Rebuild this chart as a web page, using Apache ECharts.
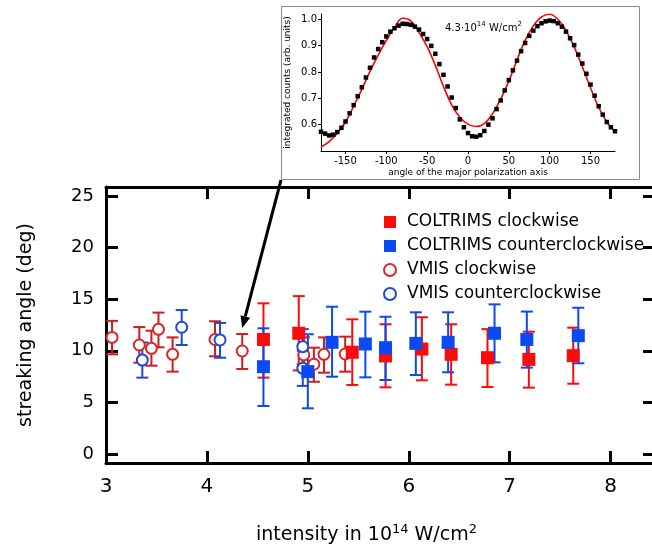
<!DOCTYPE html>
<html><head><meta charset="utf-8">
<script src="https://cdn.jsdelivr.net/npm/echarts@6/dist/echarts.min.js"></script>
<style>html,body{margin:0;padding:0;background:#fff;overflow:hidden}#c{width:652px;height:548px}</style>
</head><body><div id="c"></div>
<script>
// ---- main plot data ----
const xTicks = [3, 4, 5, 6, 7, 8];
const yTicks = [0, 5, 10, 15, 20, 25];

const coltCwX  = [4.56, 4.91, 5.44, 5.77, 6.13, 6.42, 6.78, 7.19, 7.63];
const coltCwY  = [11.1, 11.7, 9.86, 9.5, 10.17, 9.66, 9.33, 9.17, 9.53];
const coltCwLo = [7.4, 8.1, 6.69, 6.46, 7.14, 6.72, 6.49, 6.43, 6.81];
const coltCwHi = [14.6, 15.3, 13.05, 12.57, 13.25, 12.57, 12.1, 11.85, 12.24];

const coltCcwX  = [4.56, 5.0, 5.24, 5.57, 5.77, 6.07, 6.39, 6.85, 7.17, 7.68];
const coltCcwY  = [8.46, 7.98, 10.82, 10.66, 10.3, 10.72, 10.82, 11.7, 11.1, 11.47];
const coltCcwLo = [4.65, 4.43, 7.49, 7.43, 7.17, 7.65, 7.92, 8.88, 8.37, 8.79];
const coltCcwHi = [12.18, 11.6, 14.27, 13.79, 13.3, 13.73, 13.73, 14.5, 13.8, 14.17];

const vmisCwX  = [3.06, 3.33, 3.45, 3.52, 3.66, 4.08, 4.35, 4.96, 5.06, 5.16, 5.37];
const vmisCwY  = [11.3, 10.56, 10.24, 12.08, 9.66, 11.1, 9.98, 9.6, 8.7, 9.66, 9.69];
const vmisCwLo = [9.66, 8.85, 8.56, 10.34, 7.98, 9.47, 8.24, 8.0, 7.0, 7.88, 7.98];
const vmisCwHi = [12.9, 12.3, 11.95, 13.7, 11.3, 12.86, 11.63, 11.3, 10.3, 11.3, 11.37];

const vmisCcwX  = [3.36, 3.75, 4.13, 4.95, 4.95];
const vmisCcwY  = [9.1, 12.28, 11.05, 10.4, 8.3];
const vmisCcwLo = [7.4, 10.56, 9.33, 8.7, 6.6];
const vmisCcwHi = [10.8, 13.95, 12.7, 12.1, 10.0];

// ---- inset data ----
const inTicksX = [-150, -100, -50, 0, 50, 100, 150];
const inTicksY = [0.6, 0.7, 0.8, 0.9, 1.0];
const measAngle = [-180,-175,-170,-165,-160,-155,-150,-145,-140,-135,-130,-125,-120,-115,-110,-105,-100,-95,-90,-85,-80,-75,-70,-65,-60,-55,-50,-45,-40,-35,-30,-25,-20,-15,-10,-5,0,5,10,15,20,25,30,35,40,45,50,55,60,65,70,75,80,85,90,95,100,105,110,115,120,125,130,135,140,145,150,155,160,165,170,175,180];
const measCounts = [0.573,0.566,0.559,0.562,0.572,0.588,0.612,0.643,0.674,0.708,0.742,0.779,0.816,0.855,0.887,0.913,0.935,0.953,0.966,0.976,0.983,0.982,0.979,0.972,0.961,0.944,0.925,0.899,0.869,0.830,0.789,0.745,0.703,0.663,0.620,0.590,0.568,0.556,0.554,0.560,0.576,0.600,0.624,0.659,0.692,0.730,0.769,0.806,0.843,0.879,0.910,0.937,0.957,0.974,0.985,0.992,0.995,0.993,0.985,0.972,0.953,0.928,0.902,0.866,0.832,0.793,0.752,0.710,0.670,0.638,0.610,0.590,0.575];
const fitAngle = [-180,-170,-160,-150,-140,-130,-120,-110,-100,-90,-80,-70,-60,-50,-40,-30,-20,-10,0,10,20,30,40,50,60,70,80,90,100,110,120,130,140,150,160,170,180];
const fitCounts = [0.515,0.536,0.567,0.61,0.67,0.734,0.802,0.864,0.92,0.969,1.004,0.994,0.95,0.895,0.825,0.745,0.675,0.628,0.602,0.593,0.604,0.641,0.697,0.765,0.845,0.92,0.975,1.009,1.019,1.0,0.957,0.895,0.82,0.74,0.666,0.61,0.573];

const C_CW = '#ff0a0a', C_CCW = '#0a4af5', C_VCW = '#cf1c1c', C_VCW2 = '#d42a2a', C_VCCW = '#2147d6';
const FONT = 'DejaVu Sans';

function zip3(x, a, b) { return x.map((v, i) => [v, a[i], b[i]]); }
function zip2(x, a) { return x.map((v, i) => [v, a[i]]); }

function errSeries(name, x, lo, hi, color, w) {
  return {
    type: 'custom', name: name + ' err', xAxisIndex: 0, yAxisIndex: 0, z: 2,
    data: zip3(x, lo, hi),
    encode: { x: 0, y: [1, 2] },
    silent: true,
    renderItem: function (params, api) {
      const xv = api.value(0), l = api.value(1), h = api.value(2);
      const p1 = api.coord([xv, h]), p2 = api.coord([xv, l]);
      const cap = 6;
      const st = { stroke: color, lineWidth: w };
      return { type: 'group', children: [
        { type: 'line', shape: { x1: p1[0], y1: p1[1], x2: p2[0], y2: p2[1] }, style: st },
        { type: 'line', shape: { x1: p1[0] - cap, y1: p1[1], x2: p1[0] + cap, y2: p1[1] }, style: st },
        { type: 'line', shape: { x1: p2[0] - cap, y1: p2[1], x2: p2[0] + cap, y2: p2[1] }, style: st }
      ]};
    }
  };
}

const chart = echarts.init(document.getElementById('c'), null, { renderer: 'canvas' });
const mainAxisLine = { show: true, onZero: false, lineStyle: { color: '#000', width: 3 } };
const mainTick = { show: true, inside: true, length: 12, lineStyle: { color: '#000', width: 3 } };

const option = {
  animation: false,
  backgroundColor: '#fff',
  textStyle: { fontFamily: FONT },
  grid: [
    { left: 106, right: -3, top: 187, bottom: 85, containLabel: false, outerBoundsMode: 'none' },
    { left: 321, right: 37, top: 14, bottom: 397, containLabel: false, outerBoundsMode: 'none' }
  ],
  xAxis: [
    { type: 'value', gridIndex: 0, position: 'bottom', min: 3, max: 8.44,
      axisLine: mainAxisLine, axisTick: Object.assign({ customValues: xTicks }, mainTick),
      splitLine: { show: false },
      axisLabel: { customValues: xTicks, fontSize: 20, color: '#000', margin: 14, fontFamily: FONT },
      name: 'intensity in 10{s|14} W/cm{s|2}', nameLocation: 'middle', nameGap: 60,
      nameTextStyle: { fontSize: 19, color: '#000', fontFamily: FONT, padding: [0, 28, 0, 0],
        rich: { s: { fontSize: 13, verticalAlign: 'top', padding: [0, 0, 12, 0], fontFamily: FONT, color: '#000' } } }
    },
    { type: 'value', gridIndex: 0, position: 'top', min: 3, max: 8.44,
      axisLine: mainAxisLine, axisTick: Object.assign({ customValues: xTicks }, mainTick),
      splitLine: { show: false }, axisLabel: { show: false } },
    { type: 'value', gridIndex: 1, min: -180, max: 180,
      axisLine: { show: true, onZero: false, lineStyle: { color: '#000', width: 1 } },
      axisTick: { show: true, customValues: inTicksX, length: 3, lineStyle: { color: '#000', width: 1 } },
      splitLine: { show: false },
      axisLabel: { customValues: inTicksX, fontSize: 10, color: '#000', margin: 5, fontFamily: FONT },
      name: 'angle of the major polarization axis', nameLocation: 'middle', nameGap: 17,
      nameTextStyle: { fontSize: 9, color: '#000', fontFamily: FONT } }
  ],
  yAxis: [
    { type: 'value', gridIndex: 0, position: 'left', min: -0.87, max: 25.87,
      axisLine: mainAxisLine, axisTick: Object.assign({ customValues: yTicks }, mainTick),
      splitLine: { show: false },
      axisLabel: { customValues: yTicks, fontSize: 18, color: '#000', margin: 12, fontFamily: FONT },
      name: 'streaking angle (deg)', nameLocation: 'middle', nameGap: 70, nameRotate: 90,
      nameTextStyle: { fontSize: 19, color: '#000', fontFamily: FONT } },
    { type: 'value', gridIndex: 0, position: 'right', min: -0.87, max: 25.87,
      axisLine: mainAxisLine, axisTick: Object.assign({ customValues: yTicks }, mainTick),
      splitLine: { show: false }, axisLabel: { show: false } },
    { type: 'value', gridIndex: 1, min: 0.5, max: 1.02,
      axisLine: { show: true, onZero: false, lineStyle: { color: '#000', width: 1 } },
      axisTick: { show: true, customValues: inTicksY, length: 3, lineStyle: { color: '#000', width: 1 } },
      splitLine: { show: false },
      axisLabel: { customValues: inTicksY, fontSize: 10, color: '#000', margin: 4, fontFamily: FONT,
        formatter: v => v.toFixed(1) },
      name: 'integrated counts (arb. units)', nameLocation: 'middle', nameGap: 29, nameRotate: 90,
      nameTextStyle: { fontSize: 9, color: '#000', fontFamily: FONT } }
  ],
  legend: {
    orient: 'vertical', left: 378, top: 208, itemGap: 6, itemWidth: 12, itemHeight: 12,
    textStyle: { fontSize: 17, color: '#000', fontFamily: FONT, padding: [0, 0, 0, 6], lineHeight: 18 },
    data: ['COLTRIMS clockwise', 'COLTRIMS counterclockwise', 'VMIS clockwise', 'VMIS counterclockwise']
  },
  series: [
    errSeries('VMIS clockwise', vmisCwX, vmisCwLo, vmisCwHi, C_VCW, 2),
    errSeries('VMIS counterclockwise', vmisCcwX, vmisCcwLo, vmisCcwHi, C_VCCW, 2),
    errSeries('COLTRIMS clockwise', coltCwX, coltCwLo, coltCwHi, C_CW, 2),
    errSeries('COLTRIMS counterclockwise', coltCcwX, coltCcwLo, coltCcwHi, C_CCW, 2),
    { type: 'scatter', name: 'VMIS clockwise', xAxisIndex: 0, yAxisIndex: 0, z: 3,
      symbol: 'emptyCircle', symbolSize: 11, data: zip2(vmisCwX, vmisCwY),
      itemStyle: { color: C_VCW2, borderColor: C_VCW2, borderWidth: 1.2, opacity: 1 } },
    { type: 'scatter', name: 'VMIS counterclockwise', xAxisIndex: 0, yAxisIndex: 0, z: 3,
      symbol: 'emptyCircle', symbolSize: 11, data: zip2(vmisCcwX, vmisCcwY),
      itemStyle: { color: C_VCCW, borderColor: C_VCCW, borderWidth: 1.2, opacity: 1 } },
    { type: 'scatter', name: 'COLTRIMS clockwise', xAxisIndex: 0, yAxisIndex: 0, z: 4,
      symbol: 'rect', symbolSize: 13, data: zip2(coltCwX, coltCwY),
      itemStyle: { color: C_CW, opacity: 1 } },
    { type: 'scatter', name: 'COLTRIMS counterclockwise', xAxisIndex: 0, yAxisIndex: 0, z: 4,
      symbol: 'rect', symbolSize: 13, data: zip2(coltCcwX, coltCcwY),
      itemStyle: { color: C_CCW, opacity: 1 } },
    { type: 'line', name: 'fit', xAxisIndex: 2, yAxisIndex: 2, z: 3, smooth: 0.4,
      showSymbol: false, data: zip2(fitAngle, fitCounts),
      lineStyle: { color: '#ff0000', width: 1.6 } },
    { type: 'scatter', name: 'measured', xAxisIndex: 2, yAxisIndex: 2, z: 4,
      symbol: 'rect', symbolSize: 4.5, data: zip2(measAngle, measCounts),
      itemStyle: { color: '#000', opacity: 1 } }
  ]
};
chart.setOption(option);

// inset frame, annotation and arrow
const tip = chart.convertToPixel({ xAxisIndex: 0, yAxisIndex: 0 }, [4.35, 12.2]);
const start = [281, 180];
const dx = tip[0] - start[0], dy = tip[1] - start[1], L = Math.hypot(dx, dy);
const ux = dx / L, uy = dy / L, hl = 12, hw = 5;
const bx = tip[0] - ux * hl, by = tip[1] - uy * hl;
chart.setOption({
  graphic: [
    { type: 'rect', z: -10, shape: { x: 281.5, y: 6.5, width: 358, height: 173 },
      style: { fill: 'none', stroke: '#8a8a8a', lineWidth: 1 } },
    { type: 'text', left: 445, top: 21,
      style: { text: '4.3·10{s|14} W/cm{s|2}', fontSize: 10, fill: '#000', fontFamily: FONT,
        rich: { s: { fontSize: 7, verticalAlign: 'top', padding: [0, 0, 7, 0], fontFamily: FONT, fill: '#000' } } } },
    { type: 'line', shape: { x1: start[0], y1: start[1], x2: bx, y2: by },
      style: { stroke: '#000', lineWidth: 3 } },
    { type: 'polygon', shape: { points: [[tip[0], tip[1]], [bx - uy * hw, by + ux * hw], [bx + uy * hw, by - ux * hw]] },
      style: { fill: '#000' } }
  ]
});
</script></body></html>
